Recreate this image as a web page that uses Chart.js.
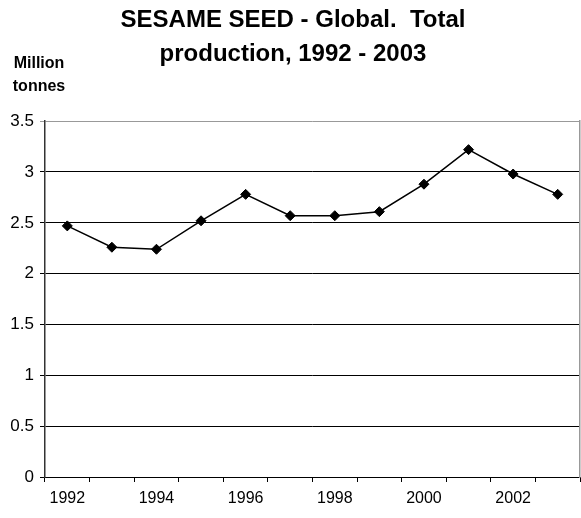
<!DOCTYPE html>
<html>
<head>
<meta charset="utf-8">
<script src="https://cdn.jsdelivr.net/npm/chart.js@4.4.1/dist/chart.umd.min.js"></script>
<style>
  html, body { margin: 0; padding: 0; background: #fff; overflow: hidden; }
  /* a bit wider than the window: the line keeps room for its end markers on the right,
     the extra px push the plot frame out to the window edge */
  #wrap { width: 586px; height: 518px; }
</style>
</head>
<body>
<div id="wrap"><canvas id="myChart"></canvas></div>
<script>
// years on the category axis
const years = ['1992', '1993', '1994', '1995', '1996', '1997', '1998', '1999', '2000', '2001', '2002', '2003'];
// total production, million tonnes
const production = [2.47, 2.26, 2.24, 2.52, 2.78, 2.57, 2.57, 2.61, 2.88, 3.22, 2.98, 2.78];
const titleLines = ['SESAME SEED - Global.  Total', 'production, 1992 - 2003'];
const unitLines = ['Million', 'tonnes'];

const FONT = '"Liberation Sans", Arial, sans-serif';

// draws the unit label in the top left corner
const unitLabel = {
  id: 'unitLabel',
  afterDraw(chart) {
    const ctx = chart.ctx;
    ctx.save();
    ctx.fillStyle = '#000';
    ctx.font = 'bold 16px ' + FONT;
    ctx.textAlign = 'center';
    ctx.textBaseline = 'middle';
    ctx.fillText(unitLines[0], 39, 64);
    ctx.fillText(unitLines[1], 39, 87);
    ctx.restore();
  }
};

const ctx = document.getElementById('myChart').getContext('2d');

const data = {
  labels: years,
  datasets: [{
    label: 'Total production',
    data: production,
    borderColor: '#000',
    borderWidth: 1.5,
    backgroundColor: '#000',
    pointStyle: 'rectRot',
    pointRadius: 5,
    pointBorderWidth: 1,
    pointHoverRadius: 5,
    tension: 0
  }]
};

const config = {
  type: 'line',
  data: data,
  plugins: [unitLabel],
  options: {
    responsive: true,
    maintainAspectRatio: false,
    animation: false,
    layout: { padding: 0 },
    plugins: {
      legend: { display: false },
      tooltip: { enabled: false },
      title: {
        display: true,
        text: titleLines,
        color: '#000',
        font: { family: FONT, size: 24, weight: 'bold', lineHeight: 1.42 },
        padding: { top: 3, bottom: 50 }
      }
    },
    scales: {
      x: {
        offset: true,
        grid: {
          offset: true,
          drawOnChartArea: false,
          drawTicks: true,
          tickLength: 5,
          color: '#000'
        },
        border: { color: '#000', width: 1 },
        ticks: {
          autoSkip: false,
          maxRotation: 0,
          color: '#000',
          padding: 7,
          font: { family: FONT, size: 16 },
          callback: function (val, i) { return i % 2 === 0 ? years[i] : ''; }
        },
        afterFit(scale) {
          scale.height = 41;
          scale.paddingLeft = 0;
          scale.paddingRight = 0;
        }
      },
      y: {
        min: 0,
        max: 3.5,
        grid: {
          color: (c) => (c.tick && c.tick.value === 3.5 ? '#999' : '#000'),
          tickLength: 5,
          lineWidth: 1
        },
        border: { color: '#333', width: 1.5 },
        ticks: {
          stepSize: 0.5,
          color: '#000',
          padding: 6,
          font: { family: FONT, size: 17 },
          callback: (v) => String(v)
        },
        afterFit(scale) { scale.width = 45; }
      },
      y2: {
        position: 'right',
        min: 0,
        max: 3.5,
        grid: { display: false, drawOnChartArea: false, drawTicks: false },
        border: { color: '#999', width: 1.5 },
        ticks: { display: false },
        afterFit(scale) { scale.width = 1; }
      }
    }
  }
};

const myChart = new Chart(ctx, config);
</script>
</body>
</html>
